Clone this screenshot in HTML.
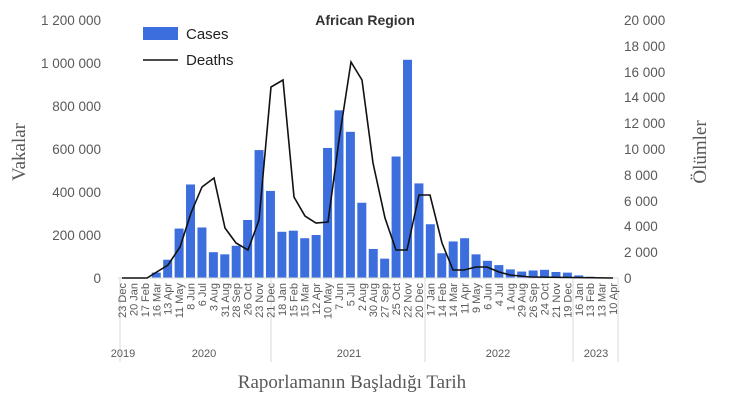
<!DOCTYPE html>
<html><head><meta charset="utf-8"><style>
body{margin:0;background:#fff;}
svg text{font-family:"Liberation Sans",sans-serif;fill:#595959;}
</style></head><body>
<svg width="732" height="404" xmlns="http://www.w3.org/2000/svg">
<g font-size="13.5" text-anchor="end">
<text x="101" y="283">0</text><text x="101" y="240">200 000</text><text x="101" y="197">400 000</text><text x="101" y="154">600 000</text><text x="101" y="111">800 000</text><text x="101" y="68">1 000 000</text><text x="101" y="25">1 200 000</text>
</g>
<g font-size="13.5" text-anchor="start">
<text x="624" y="283">0</text><text x="624" y="257">2 000</text><text x="624" y="231">4 000</text><text x="624" y="206">6 000</text><text x="624" y="180">8 000</text><text x="624" y="154">10 000</text><text x="624" y="128">12 000</text><text x="624" y="102">14 000</text><text x="624" y="77">16 000</text><text x="624" y="51">18 000</text><text x="624" y="25">20 000</text>
</g>
<text x="0" y="0" transform="translate(25,152) rotate(-90)" text-anchor="middle" font-family="Liberation Serif" font-size="19" style="font-family:'Liberation Serif',serif">Vakalar</text>
<text x="0" y="0" transform="translate(706,152) rotate(-90)" text-anchor="middle" font-size="19" style="font-family:'Liberation Serif',serif">Ölümler</text>
<text x="365" y="25" text-anchor="middle" font-size="14" font-weight="bold" style="fill:#333">African Region</text>
<g id="bars" fill="#3c6ede"></g>
<line x1="118" y1="278" x2="618" y2="278" stroke="#d9d9d9"/>
<g stroke="#d9d9d9">
<line x1="120" y1="278" x2="120" y2="362"/><line x1="271" y1="278" x2="271" y2="362"/><line x1="425" y1="278" x2="425" y2="362"/><line x1="573" y1="278" x2="573" y2="362"/><line x1="618" y1="278" x2="618" y2="362"/>
</g>
<polyline fill="none" stroke="#111" stroke-width="1.6" points="122,278 147,278 168,265 180,247 191,213 202,187 214,178 225,228 236,243 248,250 259,220 271,87 283,80 294,197 305,216 316,223 328,222 339,140 351,62 362,80 373,163 385,218 396,250 407,250 419,195 430,195 442,243 453,270 464,270 476,267 487,267 499,272 510,275 530,277 613,278"/>
<g id="xl" font-size="11"></g>
<g font-size="11" text-anchor="middle">
<text x="123" y="357">2019</text><text x="204" y="357">2020</text><text x="349" y="357">2021</text><text x="498" y="357">2022</text><text x="596" y="357">2023</text>
</g>
<text x="352" y="388" text-anchor="middle" font-size="19" style="font-family:'Liberation Serif',serif">Raporlamanın Başladığı Tarih</text>
<rect x="143" y="27" width="35" height="13" fill="#3c6ede"/>
<text x="186" y="39" font-size="15" style="fill:#222">Cases</text>
<line x1="143" y1="60" x2="178" y2="60" stroke="#111" stroke-width="1.6"/>
<text x="186" y="65" font-size="15" style="fill:#222">Deaths</text>
</svg>
<script>
var v=[0,0,0,25,85,230,435,235,120,110,150,270,595,405,215,220,185,200,605,780,680,350,135,90,565,1015,440,250,115,170,185,110,80,60,40,30,35,38,28,25,12,6,2,0];
var labs="23 Dec,20 Jan,17 Feb,16 Mar,13 Apr,11 May,8 Jun,6 Jul,3 Aug,31 Aug,28 Sep,26 Oct,23 Nov,21 Dec,18 Jan,15 Feb,15 Mar,12 Apr,10 May,7 Jun,5 Jul,2 Aug,30 Aug,27 Sep,25 Oct,22 Nov,20 Dec,17 Jan,14 Feb,14 Mar,11 Apr,9 May,6 Jun,4 Jul,1 Aug,29 Aug,26 Sep,24 Oct,21 Nov,19 Dec,16 Jan,13 Feb,13 Mar,10 Apr".split(",");
var ns="http://www.w3.org/2000/svg",b=document.getElementById("bars"),xl=document.getElementById("xl");
for(var i=0;i<44;i++){var cx=122+11.42*i;var h=v[i]*0.215;
if(h>0){var r=document.createElementNS(ns,"rect");r.setAttribute("x",cx-4.5);r.setAttribute("y",278-h);r.setAttribute("width",9);r.setAttribute("height",h);b.appendChild(r);}
var t=document.createElementNS(ns,"text");t.setAttribute("transform","translate("+(cx+4)+",283) rotate(-90)");t.setAttribute("text-anchor","end");t.textContent=labs[i];xl.appendChild(t);}
</script>
</body></html>
